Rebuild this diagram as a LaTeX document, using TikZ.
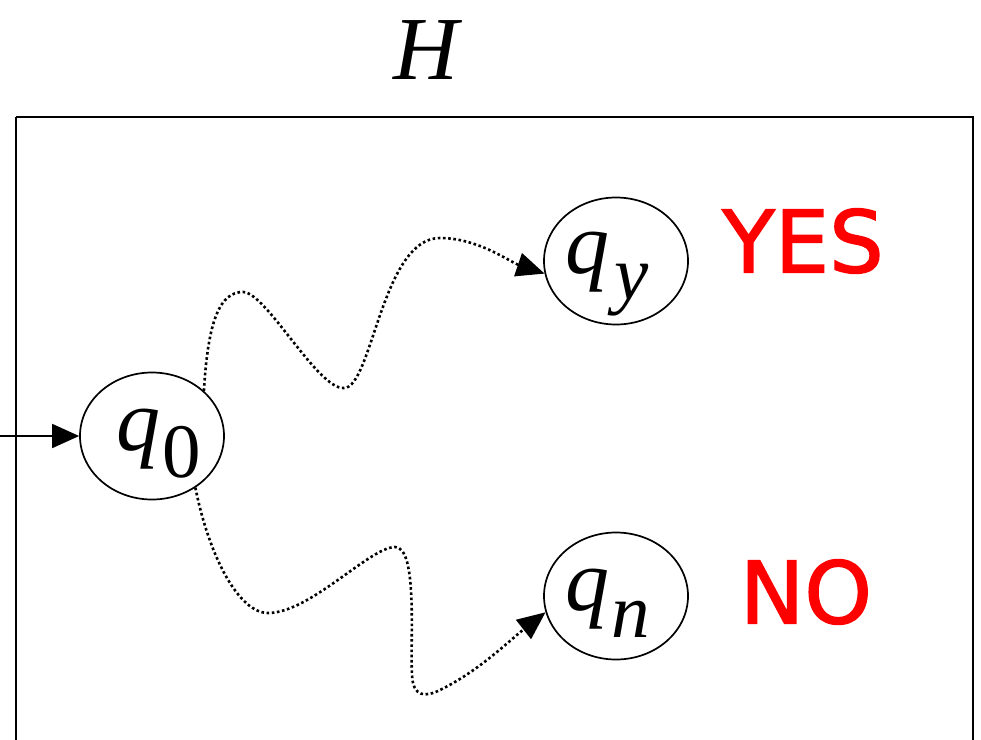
\documentclass[tikz,border=0pt]{standalone}
\usepackage{fontspec}
\setmainfont{Liberation Serif}
\newfontfamily\redsans[FakeBold=1.6]{DejaVu Sans}
\usetikzlibrary{shapes.geometric,arrows.meta}
\newcommand{\qbig}{\fontsize{88}{90}\selectfont\itshape}
\newcommand{\qsubup}{\fontsize{77}{80}\selectfont\upshape}
\newcommand{\qsubit}{\fontsize{77}{80}\selectfont\itshape}
\begin{document}
\begin{tikzpicture}[x=1pt,y=-1pt,
  state/.style={draw, line width=1.7pt, ellipse, minimum width=144pt, minimum height=127pt, inner sep=0pt},
  lbl/.style={anchor=base west, inner sep=0pt},
  wiggle/.style={line width=2.6pt, dash pattern=on 2.6pt off 2.6pt, -{Triangle[length=28pt,width=24pt]}},
  answer/.style={text=red, inner sep=0pt, font=\redsans\fontsize{86}{90}\selectfont}]
\useasboundingbox (0,0) rectangle (981,739);
\begin{scope}
\clip (0,0) rectangle (981,739);
\draw[line width=1.7pt] (16,117) -- (16,760);
\draw[line width=1.7pt] (16,117) -- (973,117) -- (973,760);
\end{scope}
\node[inner sep=0pt, font=\fontsize{90}{92}\selectfont\itshape] (H) at (426,50) {H};
\node[state] (q0) at (152,436) {};
\node[state] (qy) at (616,261) {};
\node[state] (qn) at (616,596) {};
\node[lbl] (q0t) at (116,450) {\qbig q\kern2pt\raisebox{-27pt}{\qsubup 0}};
\node[lbl] (qyt) at (565,273) {\qbig q\kern5pt\raisebox{-26pt}{\qsubit y}};
\node[lbl] (qnt) at (565,610) {\qbig q\kern2pt\raisebox{-27pt}{\qsubit n}};
\node[answer] (yes) at (803,241) {YES};
\node[answer] (no) at (806,592) {NO};
\coordinate (in) at (0,436);
\draw[line width=1.7pt, -{Triangle[length=27pt,width=24pt]}] (in) -- (q0.west);
\draw[wiggle] (q0.41) .. controls (208,320) and (220,292) .. (243,292)
  .. controls (266,292) and (318,390) .. (344,388)
  .. controls (372,388) and (382,238) .. (440,238)
  .. controls (478,238) and (510,262) .. (qy.190);
\draw[wiggle] (q0.310) .. controls (210,560) and (240,613) .. (268,613)
  .. controls (310,613) and (370,547) .. (395,547)
  .. controls (418,547) and (410,640) .. (412,675)
  .. controls (413,697) and (425,698) .. (442,689)
  .. controls (480,670) and (510,640) .. (qn.193);
\end{tikzpicture}
\end{document}
